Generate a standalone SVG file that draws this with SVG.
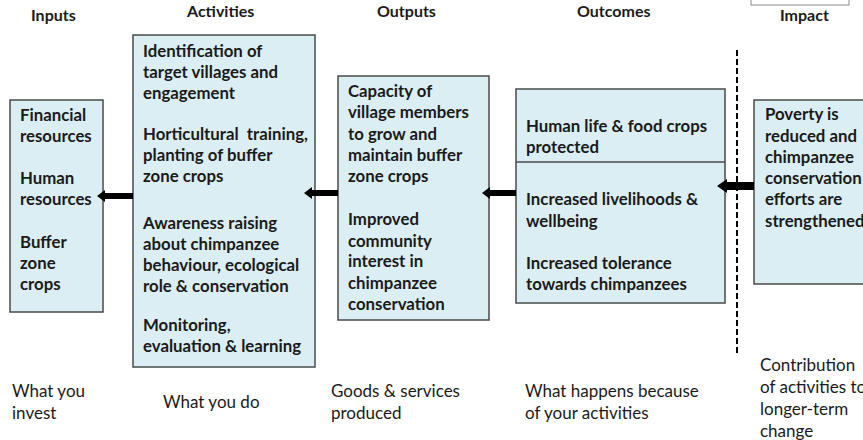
<svg xmlns="http://www.w3.org/2000/svg" width="863" height="440" viewBox="0 0 863 440">
<style>
.bg{fill:#ffffff}
.box{fill:#dbeef3;stroke:#4a4a4a;stroke-width:1.5}
.t{font-family:Lato,"Open Sans","Liberation Sans",sans-serif;font-weight:bold;font-size:16.8px;fill:#1a1a1a}
.h{font-family:Lato,"Open Sans","Liberation Sans",sans-serif;font-weight:bold;font-size:16px;fill:#1a1a1a}
.b{font-family:Lato,"Open Sans","Liberation Sans",sans-serif;font-size:17px;fill:#1a1a1a}
.arr{fill:#000000}
</style>
<rect class="bg" x="0" y="0" width="863" height="440"/>
<rect x="751" y="-5" width="98" height="10" fill="#ffffff" stroke="#8c8c8c" stroke-width="1"/>

<g id="headers">
<text class="h" x="31" y="21">Inputs</text>
<text class="h" x="187" y="17">Activities</text>
<text class="h" x="377" y="17">Outputs</text>
<text class="h" x="577" y="17">Outcomes</text>
<text class="h" x="780" y="21">Impact</text>
</g>

<g id="inputs">
<rect class="box" x="10" y="100" width="93" height="212"/>
<text class="t" x="20" y="121">Financial</text>
<text class="t" x="20" y="142">resources</text>
<text class="t" x="20" y="184">Human</text>
<text class="t" x="20" y="205">resources</text>
<text class="t" x="20" y="248">Buffer</text>
<text class="t" x="20" y="269">zone</text>
<text class="t" x="20" y="290">crops</text>
</g>

<g id="activities">
<rect class="box" x="133" y="35" width="182" height="332"/>
<text class="t" x="143" y="57">Identification of</text>
<text class="t" x="143" y="78">target villages and</text>
<text class="t" x="143" y="99">engagement</text>
<text class="t" x="143" y="140" xml:space="preserve">Horticultural  training,</text>
<text class="t" x="143" y="161">planting of buffer</text>
<text class="t" x="143" y="182">zone crops</text>
<text class="t" x="143" y="229">Awareness raising</text>
<text class="t" x="143" y="250">about chimpanzee</text>
<text class="t" x="143" y="271">behaviour, ecological</text>
<text class="t" x="143" y="292">role &amp; conservation</text>
<text class="t" x="143" y="331">Monitoring,</text>
<text class="t" x="143" y="352">evaluation &amp; learning</text>
</g>

<g id="outputs">
<rect class="box" x="338" y="76" width="151" height="244"/>
<text class="t" x="348" y="97">Capacity of</text>
<text class="t" x="348" y="118">village members</text>
<text class="t" x="348" y="140">to grow and</text>
<text class="t" x="348" y="161">maintain buffer</text>
<text class="t" x="348" y="182">zone crops</text>
<text class="t" x="348" y="225">Improved</text>
<text class="t" x="348" y="247">community</text>
<text class="t" x="348" y="267">interest in</text>
<text class="t" x="348" y="289">chimpanzee</text>
<text class="t" x="348" y="310">conservation</text>
</g>

<g id="outcomes">
<rect class="box" x="516" y="89" width="209" height="214"/>
<line x1="516" y1="162" x2="725" y2="162" stroke="#4a4a4a" stroke-width="1.5"/>
<text class="t" x="526" y="132">Human life &amp; food crops</text>
<text class="t" x="526" y="153">protected</text>
<text class="t" x="526" y="205">Increased livelihoods &amp;</text>
<text class="t" x="526" y="227">wellbeing</text>
<text class="t" x="526" y="269">Increased tolerance</text>
<text class="t" x="526" y="290">towards chimpanzees</text>
</g>

<g id="impact">
<rect class="box" x="754" y="100" width="120" height="184"/>
<text class="t" x="765" y="120">Poverty is</text>
<text class="t" x="765" y="142">reduced and</text>
<text class="t" x="765" y="163">chimpanzee</text>
<text class="t" x="765" y="184">conservation</text>
<text class="t" x="765" y="205">efforts are</text>
<text class="t" x="765" y="227">strengthened</text>
</g>

<g id="connectors">
<line x1="737" y1="50" x2="737" y2="356" stroke="#000" stroke-width="2" stroke-dasharray="6,3"/>
<polygon class="arr" points="97,196 105,190 105,193 133,193 133,199 105,199 105,202"/>
<polygon class="arr" points="304,193 312,187 312,190 338,190 338,196 312,196 312,199"/>
<polygon class="arr" points="482,193 490,187 490,190 516,190 516,196 490,196 490,199"/>
<polygon class="arr" points="717,186 727,179 727,182 754,182 754,190 727,190 727,193"/>
</g>

<g id="footers">
<text class="b" x="12" y="397">What you</text>
<text class="b" x="12" y="419">invest</text>
<text class="b" x="163" y="408">What you do</text>
<text class="b" x="331" y="397">Goods &amp; services</text>
<text class="b" x="331" y="419">produced</text>
<text class="b" x="525" y="397">What happens because</text>
<text class="b" x="525" y="419">of your activities</text>
<text class="b" x="760" y="371">Contribution</text>
<text class="b" x="760" y="393">of activities to</text>
<text class="b" x="760" y="415">longer-term</text>
<text class="b" x="760" y="437">change</text>
</g>
</svg>
